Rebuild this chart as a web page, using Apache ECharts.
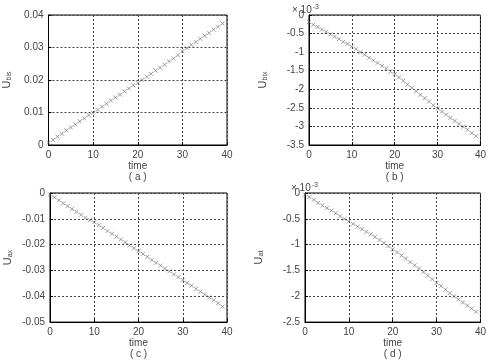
<!DOCTYPE html>
<html>
<head>
<meta charset="UTF-8">
<title>U vs time</title>
<script src="https://cdn.jsdelivr.net/npm/echarts@6/dist/echarts.min.js"></script>
<style>
    html,body{margin:0;padding:0;background:#fff;}
    #chart{width:489px;height:361px;}
</style>
</head>
<body>
<div id="chart"></div>
<script>
// time steps (same for all four panels)
var time = [0,1,2,3,4,5,6,7,8,9,10,11,12,13,14,15,16,17,18,19,20,21,22,23,24,25,26,27,28,29,30,31,32,33,34,35,36,37,38,39];

// (a) U_bis
var uA = [0.0007,0.0016,0.0026,0.0035,0.0045,0.0054,0.0063,0.0073,0.0082,0.0092,
          0.0099,0.0108,0.0118,0.0127,0.0137,0.0146,0.0155,0.0165,0.0174,0.0184,
          0.0191,0.0200,0.0210,0.0219,0.0229,0.0238,0.0247,0.0257,0.0266,0.0276,
          0.0289,0.0298,0.0308,0.0317,0.0327,0.0336,0.0345,0.0355,0.0364,0.0374];
// (b) U_bix, in units of 1e-3
var uB = [-0.19,-0.26,-0.32,-0.39,-0.45,-0.52,-0.58,-0.65,-0.72,-0.78,
          -0.85,-0.92,-1.00,-1.07,-1.15,-1.22,-1.29,-1.37,-1.44,-1.52,
          -1.59,-1.68,-1.77,-1.87,-1.96,-2.05,-2.15,-2.24,-2.33,-2.43,
          -2.52,-2.60,-2.68,-2.77,-2.85,-2.93,-3.01,-3.09,-3.18,-3.26];
// (c) U_ax
var uC = [-0.0006,-0.0017,-0.0028,-0.0040,-0.0051,-0.0062,-0.0073,-0.0084,-0.0096,-0.0105,
          -0.0113,-0.0124,-0.0135,-0.0147,-0.0158,-0.0169,-0.0180,-0.0191,-0.0203,-0.0214,
          -0.0225,-0.0236,-0.0247,-0.0259,-0.0270,-0.0281,-0.0292,-0.0303,-0.0315,-0.0326,
          -0.0337,-0.0348,-0.0359,-0.0371,-0.0382,-0.0393,-0.0404,-0.0415,-0.0427,-0.0440];
// (d) U_at, in units of 1e-3
var uD = [-0.03,-0.08,-0.13,-0.19,-0.24,-0.29,-0.34,-0.39,-0.45,-0.50,
          -0.55,-0.60,-0.65,-0.70,-0.75,-0.80,-0.85,-0.91,-0.97,-1.03,
          -1.09,-1.15,-1.21,-1.27,-1.34,-1.40,-1.46,-1.53,-1.60,-1.67,
          -1.74,-1.80,-1.87,-1.94,-2.00,-2.06,-2.12,-2.18,-2.24,-2.30];

var xTicks = {min:0, max:40, interval:10};
var panels = [
    {sub:'bis', cap:'( a )', y:uA, min:0, max:0.04, interval:0.01, grid:{left:48, top:15, width:179, height:130}},
    {sub:'bix', cap:'( b )', y:uB, min:-3.5, max:0, interval:0.5, grid:{left:309, top:15, width:172, height:130}},
    {sub:'ax', cap:'( c )', y:uC, min:-0.05, max:0, interval:0.01, grid:{left:50, top:193, width:177, height:131}},
    {sub:'at', cap:'( d )', y:uD, min:-2.5, max:0, interval:0.5, grid:{left:305, top:193, width:176, height:131}}
];

var font = 'Liberation Sans, Arial, sans-serif';
var crossMark = 'path://M0,0L10,10M10,0L0,10';

var grids = [], xAxes = [], yAxes = [], series = [];
for (var i = 0; i < panels.length; i++) {
    var p = panels[i];
    grids.push({
        left:p.grid.left, top:p.grid.top, width:p.grid.width, height:p.grid.height,
        show:true, borderColor:'#000', borderWidth:1, backgroundColor:'#fff'
    });
    xAxes.push({
        gridIndex:i, type:'value', min:xTicks.min, max:xTicks.max, interval:xTicks.interval,
        axisLine:{onZero:false, lineStyle:{color:'#000'}},
        axisTick:{inside:true, length:3, lineStyle:{color:'#000'}},
        axisLabel:{color:'#444', fontSize:10, fontFamily:font, margin:5},
        splitLine:{show:true, lineStyle:{color:'#444', type:[2,2], width:1}},
        name:'time\n' + p.cap, nameLocation:'middle', nameGap:15,
        nameTextStyle:{color:'#444', fontSize:10, fontFamily:font, lineHeight:11}
    });
    yAxes.push({
        gridIndex:i, type:'value', min:p.min, max:p.max, interval:p.interval,
        axisLine:{onZero:false, lineStyle:{color:'#000'}},
        axisTick:{inside:true, length:3, lineStyle:{color:'#000'}},
        axisLabel:{color:'#444', fontSize:10, fontFamily:font, margin:5},
        splitLine:{show:true, lineStyle:{color:'#444', type:[2,2], width:1}},
        name:'{u|U}{s|' + p.sub + '}', nameLocation:'middle', nameGap:(i % 2 === 0 ? 36 : 40),
        nameTextStyle:{rich:{
            u:{color:'#444', fontSize:11, fontFamily:font},
            s:{color:'#444', fontSize:7, fontFamily:font, verticalAlign:'bottom', padding:[5,0,0,0]}
        }}
    });
    var pts = [];
    for (var j = 0; j < time.length; j++) pts.push([time[j], p.y[j]]);
    series.push({
        type:'scatter', xAxisIndex:i, yAxisIndex:i, data:pts,
        symbol:crossMark, symbolSize:4, silent:true,
        itemStyle:{color:'rgba(0,0,0,0)', borderColor:'#666', borderWidth:0.8}
    });
}

var chart = echarts.init(document.getElementById('chart'));
chart.setOption({
    backgroundColor:'#fff',
    animation:false,
    grid:grids,
    xAxis:xAxes,
    yAxis:yAxes,
    series:series,
    graphic:[
        {type:'text', left:292, top:4, style:{text:'{a|× 10}{b|-3}', rich:{
            a:{fill:'#444', fontSize:10, fontFamily:font},
            b:{fill:'#444', fontSize:7, fontFamily:font, verticalAlign:'top', padding:[0,0,6,1]}
        }}},
        {type:'text', left:291, top:182, style:{text:'{a|× 10}{b|-3}', rich:{
            a:{fill:'#444', fontSize:10, fontFamily:font},
            b:{fill:'#444', fontSize:7, fontFamily:font, verticalAlign:'top', padding:[0,0,6,1]}
        }}}
    ]
});
</script>
</body>
</html>
